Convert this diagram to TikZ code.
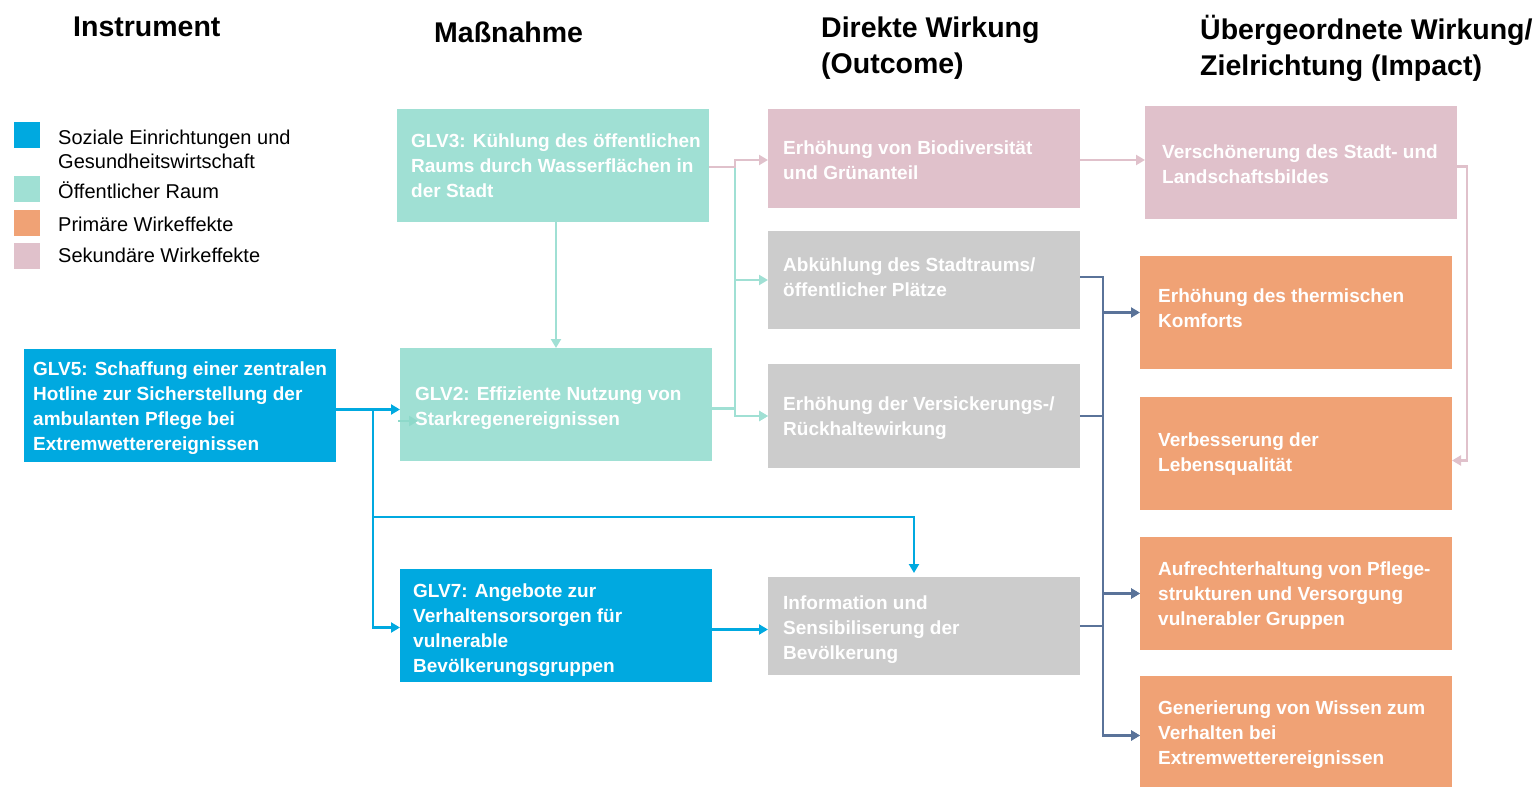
\documentclass[tikz,border=0pt]{standalone}
\usepackage{fontspec}
\setmainfont{Liberation Sans}
\usetikzlibrary{arrows.meta,calc}
\definecolor{cblue}{HTML}{00A9E0}
\definecolor{cteal}{HTML}{A0E0D4}
\definecolor{corange}{HTML}{F0A275}
\definecolor{cpink}{HTML}{E0C1CB}
\definecolor{cgray}{HTML}{CCCCCC}
\definecolor{cdark}{HTML}{5A7399}
\definecolor{ctealarrow}{HTML}{8ED9CA}
\begin{document}
\begin{tikzpicture}[x=1pt,y=-1pt,
 box/.style={fill=#1, draw=none, minimum width=312pt, anchor=north west, inner sep=0pt, outer sep=0pt},
 boxtext/.style={anchor=west, align=left, text=white, font=\fontsize{19}{25}\selectfont\bfseries, inner sep=0pt},
 head/.style={anchor=west, align=left, font=\fontsize{28.5}{36}\selectfont\bfseries, inner sep=0pt},
 legsq/.style={fill=#1, minimum size=26pt, inner sep=0pt, anchor=north west},
 legtext/.style={anchor=west, align=left, font=\fontsize{20}{24}\selectfont, inner sep=0pt},
 conn/.style={draw=#1, line width=2.2pt, -{Triangle[length=9pt,width=10pt]}}
]
\useasboundingbox (0,0) rectangle (1539,787);

% headers
\node[head] (h1) at (73,27) {Instrument};
\node[head] (h2) at (434,32) {Maßnahme};
\node[head] (h3) at (821,48) {Direkte Wirkung\\(Outcome)};
\node[head] (h4) at (1200,48) {Übergeordnete Wirkung/\\Zielrichtung (Impact)};

% legend
\node[legsq=cblue] (l1) at (14,122) {};
\node[legsq=cteal] (l2) at (14,176) {};
\node[legsq=corange] (l3) at (14,210) {};
\node[legsq=cpink] (l4) at (14,243) {};
\node[legtext] (lt1) at (58,149) {Soziale Einrichtungen und\\Gesundheitswirtschaft};
\node[legtext] (lt2) at (58,190) {Öffentlicher Raum};
\node[legtext] (lt3) at (58,224) {Primäre Wirkeffekte};
\node[legtext] (lt4) at (58,255) {Sekundäre Wirkeffekte};

% boxes
\node[box=cteal, minimum height=113pt] (glv3) at (397,109) {};
\node[box=cteal, minimum height=113pt] (glv2) at (400,348) {};
\node[box=cblue, minimum height=113pt] (glv5) at (24,349) {};
\node[box=cblue, minimum height=113pt] (glv7) at (400,569) {};
\node[box=cpink, minimum height=99pt] (bio) at (768,109) {};
\node[box=cgray, minimum height=98pt] (abk) at (768,231) {};
\node[box=cgray, minimum height=104pt] (vers) at (768,364) {};
\node[box=cgray, minimum height=98pt] (info) at (768,577) {};
\node[box=cpink, minimum height=113pt] (versch) at (1145,106) {};
\node[box=corange, minimum height=113pt] (therm) at (1140,256) {};
\node[box=corange, minimum height=113pt] (leben) at (1140,397) {};
\node[box=corange, minimum height=113pt] (aufr) at (1140,537) {};
\node[box=corange, minimum height=111pt] (gen) at (1140,676) {};

% box texts
\node[boxtext] (glv3t) at ([xshift=14pt]glv3.west) {GLV3: Kühlung des öffentlichen\\Raums durch Wasserflächen in\\der Stadt};
\node[boxtext] (glv2t) at ([xshift=15pt,yshift=-3.5pt]glv2.west) {GLV2: Effiziente Nutzung von\\Starkregenereignissen};
\node[boxtext] (glv5t) at ([xshift=9pt,yshift=-3pt]glv5.west) {GLV5: Schaffung einer zentralen\\Hotline zur Sicherstellung der\\ambulanten Pflege bei\\Extremwetterereignissen};
\node[boxtext] (glv7t) at ([xshift=13pt,yshift=-5pt]glv7.west) {GLV7: Angebote zur\\Verhaltensorsorgen für\\vulnerable\\Bevölkerungsgruppen};
\node[boxtext] (biot) at ([xshift=15pt,yshift=-2pt]bio.west) {Erhöhung von Biodiversität\\und Grünanteil};
\node[boxtext] (abkt) at ([xshift=15pt,yshift=3pt]abk.west) {Abkühlung des Stadtraums/\\öffentlicher Plätze};
\node[boxtext] (verst) at ([xshift=15pt,yshift=-2pt]vers.west) {Erhöhung der Versickerungs-/\\Rückhaltewirkung};
\node[boxtext] (infot) at ([xshift=15pt,yshift=-4pt]info.west) {Information und\\Sensibiliserung der\\Bevölkerung};
\node[boxtext] (verscht) at ([xshift=17pt,yshift=-2pt]versch.west) {Verschönerung des Stadt- und\\Landschaftsbildes};
\node[boxtext] (thermt) at ([xshift=18pt,yshift=4pt]therm.west) {Erhöhung des thermischen\\Komforts};
\node[boxtext] (lebent) at ([xshift=18pt,yshift=-1pt]leben.west) {Verbesserung der\\Lebensqualität};
\node[boxtext] (aufrt) at ([xshift=18pt,yshift=-2pt]aufr.west) {Aufrechterhaltung von Pflege-\\strukturen und Versorgung\\vulnerabler Gruppen};
\node[boxtext] (gent) at ([xshift=18pt,yshift=-3pt]gen.west) {Generierung von Wissen zum\\Verhalten bei\\Extremwetterereignissen};

% teal connectors
\draw[conn=cteal] (glv3.south -| glv2.north) -- (glv2.north);
\draw[conn=cteal] ([yshift=-1.5pt]glv3.east) -- ++(26,0) |- (abk.west);
\draw[conn=cteal] ([yshift=-1.5pt]glv3.east) -- ++(26,0) |- (vers.west);
\draw[conn=cteal] ([yshift=-4pt]glv2.east) -- ++(23,0) |- (vers.west);
% pink connectors
\draw[conn=cpink] ([yshift=-1.5pt]glv3.east) -- ++(26,0) |- ([yshift=-1.5pt]bio.west);
\draw[conn=cpink] ([yshift=-1.5pt]bio.east) -- ([yshift=-1.5pt]bio.east -| versch.west);
\draw[conn=cpink] ([yshift=-4pt]versch.east) -- ++(10,0) |- ([yshift=-7pt]leben.east);
% teal stub
\coordinate (stub) at (398,421);
\draw[conn=ctealarrow] (stub) -- ++(20,0);

% blue connectors
\coordinate (j5) at (373,517);
\draw[conn=cblue] ([yshift=-4pt]glv5.east) -- ([yshift=-4pt]glv5.east -| glv2.west);
\draw[conn=cblue] ([yshift=-4pt]glv5.east) -| (j5) |- ([yshift=-2pt]glv7.west);
\draw[conn=cblue] ([yshift=-4pt]glv5.east) -| (j5) -| ([xshift=-10pt,yshift=4pt]info.north);
\draw[conn=cblue] ([yshift=-4pt]glv7.east) -- ([yshift=-4pt]glv7.east -| info.west);

% dark connectors
\draw[conn=cdark] ([yshift=3pt]abk.east) -- ++(23,0) |- (therm.west);
\draw[conn=cdark] ([yshift=3pt]abk.east) -- ++(23,0) |- ([yshift=-4pt]gen.west);
\draw[conn=cdark] (vers.east) -- ++(23,0) |- (aufr.west);
\draw[conn=cdark] (info.east) -- ++(23,0) |- (aufr.west);
\draw[conn=cdark] (info.east) -- ++(23,0) |- ([yshift=-4pt]gen.west);
\end{tikzpicture}
\end{document}
